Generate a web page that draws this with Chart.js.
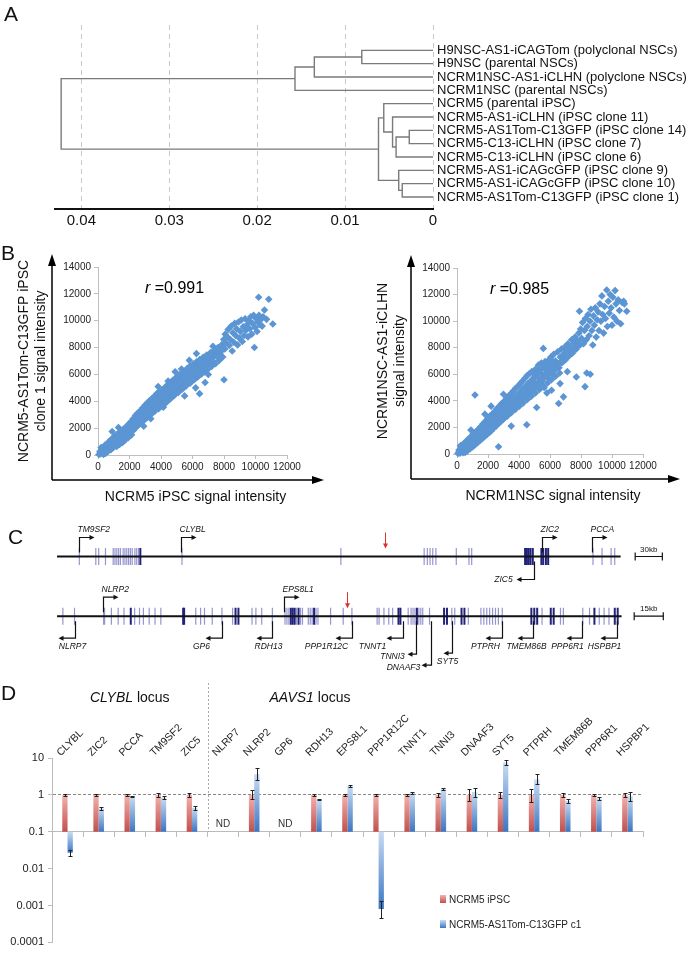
<!DOCTYPE html>
<html>
<head>
<meta charset="utf-8">
<title>Figure</title>
<script src="https://cdn.jsdelivr.net/npm/chart.js@4.4.1/dist/chart.umd.min.js"></script>
<style>
  html, body { margin: 0; padding: 0; background: #fff; }
  body { position: relative; width: 699px; height: 953px; overflow: hidden; font-family: 'Liberation Sans', Arial, sans-serif; }
  canvas { position: absolute; }
  .panel { position: absolute; font-size: 21px; line-height: 21px; color: #111; }
</style>
</head>
<body>
<canvas id="dendro" width="699" height="240" style="left:0;top:0"></canvas>
<canvas id="sc1" width="350" height="270" style="left:0;top:240px"></canvas>
<canvas id="sc2" width="349" height="270" style="left:350px;top:240px"></canvas>
<canvas id="track1" width="699" height="80" style="left:0;top:515px"></canvas>
<canvas id="track2" width="699" height="95" style="left:0;top:580px"></canvas>
<canvas id="bars" width="699" height="283" style="left:0;top:670px"></canvas>
<div class="panel" style="left:4px;top:3px">A</div>
<div class="panel" style="left:1px;top:242px">B</div>
<div class="panel" style="left:8px;top:526px">C</div>
<div class="panel" style="left:1px;top:682px">D</div>
<script>
// ---------- A: dendrogram ----------
const leafNames = [
  'H9NSC-AS1-iCAGTom (polyclonal NSCs)',
  'H9NSC (parental NSCs)',
  'NCRM1NSC-AS1-iCLHN (polyclone NSCs)',
  'NCRM1NSC (parental NSCs)',
  'NCRM5 (parental iPSC)',
  'NCRM5-AS1-iCLHN (iPSC clone 11)',
  'NCRM5-AS1Tom-C13GFP (iPSC clone 14)',
  'NCRM5-C13-iCLHN (iPSC clone 7)',
  'NCRM5-C13-iCLHN (iPSC clone 6)',
  'NCRM5-AS1-iCAGcGFP (iPSC clone 9)',
  'NCRM5-AS1-iCAGcGFP (iPSC clone 10)',
  'NCRM5-AS1Tom-C13GFP (iPSC clone 1)'
];
// merge k creates node 12 + k from two children
const mergeLeft = [0, 12, 13, 6, 15, 5, 4, 10, 9, 18, 14];
const mergeRight = [1, 2, 3, 7, 8, 16, 17, 11, 19, 20, 21];
const mergeHeight = [0.0081, 0.0135, 0.0157, 0.0027, 0.0042, 0.0046, 0.0056, 0.0035, 0.0039, 0.0062, 0.0423];
const distTicks = [0.04, 0.03, 0.02, 0.01, 0];
const distTickLabels = ['0.04', '0.03', '0.02', '0.01', '0'];

// ---------- B: scatter plots ----------
const rValues = ['0.991', '0.985'];
const scatterTicksX = [0, 2000, 4000, 6000, 8000, 10000, 12000];
const scatterTicksY = [0, 2000, 4000, 6000, 8000, 10000, 12000, 14000];
const ipscPoints = [
  [60,40],[120,260],[180,90],[250,420],[300,180],[380,610],[420,330],[480,120],[520,760],[560,450],[640,280],[690,880],[730,600],[800,1120],[820,390],[880,760],[940,1000],[980,560],
  [1040,1400],[1080,820],[1130,1110],[1190,640],[1230,1550],[1280,960],[1330,1300],[1370,780],[1420,1720],[1460,1130],[1510,1480],[1560,940],[1600,1900],[1640,1320],[1690,1650],[1740,1130],[1780,2080],[1830,1500],[1870,1800],[1920,1280],[1960,2240],[1990,1680],[1300,2050],[900,1750],
  [2040,2000],[2090,2480],[2130,1500],[2180,2230],[2230,2700],[2270,1860],[2330,2450],[2380,2950],[2420,2080],[2480,2640],[2530,3120],[2570,2230],[2630,2820],[2680,3300],[2720,2400],[2780,3000],[2830,3500],[2870,2580],[2930,3170],[2980,3700],[2900,2150],
  [3040,2790],[3090,3330],[3130,3880],[3180,2980],[3230,3520],[3280,4050],[3320,3150],[3380,3700],[3430,4200],[3480,3320],[3530,3880],[3580,4380],[3630,3480],[3680,4060],[3730,4560],[3780,3650],[3830,4230],[3880,4720],[3930,3820],[3980,4400],[3820,5100],[3350,2700],
  [4040,4020],[4100,4880],[4150,3560],[4200,4560],[4260,5050],[4310,3900],[4370,4730],[4420,5230],[4470,4080],[4450,5500],[4530,4900],[4580,5400],[4640,4250],[4690,5080],[4750,5560],[4800,4420],[4860,5240],[4910,5720],[4960,4600],[4900,6200],
  [5030,5420],[5080,5900],[5140,4780],[5200,5600],[5260,6060],[5300,6400],[5320,4960],[5380,5780],[5450,6240],[5500,4400],[5510,5150],[5580,5950],[5640,6420],[5700,5320],[5760,6120],[5800,7050],[5830,6600],[5890,5480],[5950,6300],[6000,5800],
  [6060,6780],[6120,5650],[6180,6460],[6200,5000],[6250,7550],[6260,6940],[6320,5820],[6380,6640],[6450,4570],[6460,7100],[6530,6000],[6600,6820],[6680,7280],[6750,6180],[6800,5400],[6830,7000],[6900,7450],[6970,6380],[7000,6000],
  [7060,7180],[7140,7620],[7220,6600],[7300,7360],[7300,8100],[7380,7800],[7460,6800],[7500,7870],[7540,7540],[7620,8000],[7700,7050],[7780,7720],[7850,8200],[7920,7300],[7980,8600],[8000,5600],
  [8050,7900],[8080,9000],[8120,8350],[8200,8800],[8260,9350],[8330,8150],[8400,8600],[8460,9600],[8520,7750],[8560,9100],[8620,8400],[8680,9800],[8740,8900],[8800,9400],[8860,8200],[8920,9900],[8980,8700],[9040,9200],[9100,10050],[9160,8450],[9220,9550],[9280,8900],[9340,10150],[9400,9300],[9460,9700],[9520,8800],[9580,10000],[9640,9400],[9700,10300],[9760,9000],[9820,9800],[9880,10400],[9930,8000],[9980,9500],[10050,10150],[10100,9200],[10160,9900],[10220,10400],[10280,9700],[10350,10100],[10420,9600],[10480,10300],[10570,10800],[10200,11750],[10840,11600],[11100,9750],[10700,10100],
  [150,150],[270,250],[390,400],[510,480],[630,650],[750,720],[870,900],[990,950],[1110,1150],[1230,1180],[1350,1380],[1470,1420],[1590,1620],[1710,1660],[1830,1850],[1950,1900],[2070,2110],[2190,2140],[2310,2350],[2430,2380],[2550,2600],[2670,2620],[2790,2830],[2910,2870],[3030,3080],[3150,3100],[3270,3320],[3390,3350],[3510,3560],[3630,3590],[3750,3800],[3870,3830],[3990,4040],[4110,4060],[4230,4280],[4350,4300],[4470,4520],[4590,4540],[4710,4760],[4830,4780],[4950,5000],[5070,4960],[5190,5240],[5310,5200],[5430,5480],[5550,5440],[5670,5720],[5790,5680],[5910,5960],[6030,5950],[6150,6200],[6270,6150],[6390,6430],[6510,6400],[6630,6680],[6750,6600],[6870,6900],[7000,6800],[7150,7100],[7300,7000],[7450,7400],[7600,7300],[7750,7600],[7900,7850],
  [200,550],[450,750],[700,1000],[950,1250],[1200,1500],[1450,1800],[1700,2000],[1950,2300],[2200,2500],[2450,2800],[2700,3000],[2950,3300],[3200,3500],[3450,3800],[3700,4000],[3950,4300],[4200,4400],[4450,4750],[4700,5000],[4950,5250],[5200,5400],[5450,5750],[5700,5900],[5950,6200],[6200,6550],[6450,6700],
  [350,50],[600,300],[850,550],[1100,800],[1350,1050],[1600,1300],[1850,1550],[2100,1800],[2350,2000],[2600,2300],[2850,2500],[3100,2750],[3350,3000],[3600,3250],[3850,3450],[4100,3750],[4350,3950],[4600,4200],[4850,4450],[5100,4650],[5350,4900],[5600,5150],[5850,5350],[6100,5600],[6350,5850],[6600,6100]
];
const nscPoints = [
  [60,50],[130,300],[190,60],[260,520],[320,200],[400,700],[450,380],[520,120],[560,900],[610,500],[680,250],[730,1050],[780,700],[850,400],[900,1250],[960,850],
  [1020,550],[1060,1450],[1110,1050],[1160,4440],[1170,700],[1220,1650],[1270,1250],[1320,850],[1370,1850],[1420,1400],[1470,1000],[1520,2050],[1570,1600],[1620,1150],[1670,2250],[1720,1800],[1770,1300],[1820,2450],[1870,1950],[1920,1450],[1970,2650],[1800,3000],[900,1800],
  [2020,2150],[2070,1600],[2120,2850],[2170,2350],[2200,3600],[2220,1750],[2270,3000],[2320,2500],[2370,1950],[2420,3200],[2470,2700],[2520,2100],[2570,3400],[2620,2900],[2680,550],[2680,2300],[2730,3600],[2780,3100],[2830,2450],[2880,3800],[2930,3300],[2980,2650],[3000,4500],
  [3030,3950],[3080,3450],[3130,2800],[3180,4150],[3230,3650],[3280,3000],[3330,4350],[3380,3850],[3430,3150],[3480,4550],[3500,2100],[3530,4000],[3580,3350],[3630,4750],[3680,4200],[3730,3500],[3780,4950],[3830,4400],[3880,3700],[3930,5100],[3980,4550],
  [4030,3850],[4080,5300],[4130,4750],[4180,4050],[4230,5500],[4280,4950],[4330,4200],[4380,5700],[4430,5100],[4480,4400],[4500,2200],[4530,5900],[4580,5300],[4630,4550],[4680,6050],[4730,5450],[4780,4750],[4830,6200],[4880,5650],[4930,4900],[4980,6000],
  [5030,5800],[5080,6400],[5140,3500],[5140,5100],[5200,6100],[5260,6700],[5320,5300],[5380,6300],[5440,6850],[5500,5500],[5570,7950],[5560,6500],[5620,5000],[5680,6950],[5740,6000],[5800,4600],[5820,6700],[5880,5700],[5940,7100],[6000,6300],
  [6060,7300],[6100,4800],[6120,6000],[6180,6800],[6240,7500],[6300,6300],[6360,7000],[6430,6600],[6500,7700],[6560,3800],[6580,6500],[6650,5300],[6660,7300],[6740,7900],[6800,6900],[6870,4300],[6880,7500],[6950,8050],[7000,7100],
  [7060,7800],[7120,6200],[7160,8300],[7240,7400],[7320,8000],[7400,8600],[7460,7600],[7540,8300],[7620,8800],[7700,5800],[7700,7900],[7780,8500],[7860,9100],[7900,10750],[7940,8200],[7980,9400],
  [8040,8700],[8100,9900],[8160,8300],[8220,9300],[8260,5070],[8280,10200],[8340,8600],[8370,6100],[8400,9600],[8460,10500],[8520,8900],[8580,10000],[8600,6000],[8640,10900],[8700,9300],[8760,8200],[8800,10400],[8860,9700],[8920,11000],[8980,8800],[9040,10100],[9100,10700],[9160,9300],[9220,11300],[9280,10000],[9350,11900],[9400,10500],[9460,9100],[9520,11100],[9580,10200],[9660,12340],[9700,9600],[9760,11500],[9820,10600],[9880,12000],[9940,11000],[10000,9700],[10060,11800],[10120,10300],[10200,12300],[10260,11300],[10320,10000],[10400,11600],[10480,10800],[10560,9800],[10650,11400],[10750,11500],[10950,10750],[10800,11300],
  [150,180],[280,300],[410,450],[540,560],[670,720],[800,820],[930,990],[1060,1080],[1190,1250],[1320,1340],[1450,1520],[1580,1590],[1710,1790],[1840,1850],[1970,2060],[2100,2110],[2230,2330],[2360,2370],[2490,2600],[2620,2630],[2750,2870],[2880,2890],[3010,3140],[3140,3150],[3270,3410],[3400,3420],[3530,3680],[3660,3690],[3790,3950],[3920,3960],[4050,4220],[4180,4230],[4310,4490],[4440,4500],[4570,4760],[4700,4770],[4830,5030],[4960,5040],[5090,5300],[5220,5310],[5350,5570],[5480,5580],[5610,5840],[5740,5850],[5870,6110],[6000,6120],[6150,6400],[6300,6450],[6450,6700],[6600,6750],[6750,7000],[6900,7050],[7050,7300],[7200,7400],[7350,7650],[7500,7800],[7650,8000],[7800,8200],
  [220,620],[480,850],[740,1150],[1000,1450],[1260,1700],[1520,2000],[1780,2250],[2040,2550],[2300,2800],[2560,3100],[2820,3350],[3080,3650],[3340,3900],[3600,4200],[3860,4450],[4120,4750],[4380,5000],[4640,5300],[4900,5550],[5160,5850],[5420,6100],[5680,6400],[5940,6650],[6200,6950],
  [380,100],[640,350],[900,600],[1160,850],[1420,1100],[1680,1350],[1940,1600],[2200,1850],[2460,2100],[2720,2350],[2980,2600],[3240,2850],[3500,3100],[3760,3350],[4020,3600],[4280,3850],[4540,4100],[4800,4350],[5060,4600],[5320,4850],[5580,5100],[5840,5350],[6100,5600],[6360,5850],[6620,6100]
];

// ---------- C: loci (positions in kb) ----------
const clyblSpan = [0, 622.5];
const clyblScaleBar = [638.6, 30];
const clyblExonsLight = [24.6, 42.8, 46, 53.5, 62, 64, 66, 68, 70, 73, 75, 77, 79, 81, 83, 86, 88, 90, 138, 313.5, 405.5, 409, 412, 415, 418.5, 441, 455, 458, 592, 602, 612, 616];
const clyblExonsDark = [92, 517, 519, 521, 523, 525.5, 535, 537, 540, 542.5];
const clyblGenes = ['TM9SF2', 'CLYBL', 'ZIC2', 'PCCA', 'ZIC5'];
const clyblGenePos = [24.6, 137, 536, 591, 527];
const clyblGeneStrand = [1, 1, 1, 1, -1];
const clyblSite = [362];

const aavsSpan = [0, 291];
const aavsScaleBar = [297.5, 15];
const aavsExonsLight = [3, 9, 24, 24.5, 28, 31.5, 34.5, 40, 42.5, 44.5, 47.5, 50.5, 53.5, 71.5, 74, 76, 80, 85, 90.5, 100.5, 102.5, 105.5, 111, 117.5, 118.5, 119.5, 123.5, 125.5, 126.5, 129.5, 130.5, 131.5, 133.5, 134.5, 141, 147.5, 152, 165, 166, 168.5, 171, 173, 181, 182.5, 183.5, 184.5, 186.5, 187.5, 188.5, 192, 203.5, 205, 212, 218.5, 220, 221.5, 223, 224.5, 226, 227.5, 229.5, 250, 259.5, 261, 271, 274.5, 279.5, 282, 284.5];
const aavsExonsDark = [38, 65, 65.5, 92, 93.5, 120.5, 121.5, 122.5, 124.5, 132.5, 176, 177, 185.5, 199.5, 201, 208.5, 210, 244.5, 246, 247.5, 254.5, 256, 277, 287.5, 289];
const aavsGenes = ['NLRP2', 'EPS8L1', 'NLRP7', 'GP6', 'RDH13', 'PPP1R12C', 'TNNT1', 'TNNI3', 'DNAAF3', 'SYT5', 'PTPRH', 'TMEM86B', 'PPP6R1', 'HSPBP1'];
const aavsGenePos = [23.5, 117, 9, 85, 111, 152, 178.5, 185, 193, 203.5, 229.5, 245.5, 270.5, 288.5];
const aavsGeneStrand = [1, 1, -1, -1, -1, -1, -1, -1, -1, -1, -1, -1, -1, -1];
const aavsSite = [149.5];

// ---------- D: qPCR ----------
const geneCats = ['CLYBL', 'ZIC2', 'PCCA', 'TM9SF2', 'ZIC5', 'NLRP7', 'NLRP2', 'GP6', 'RDH13', 'EPS8L1', 'PPP1R12C', 'TNNT1', 'TNNI3', 'DNAAF3', 'SYT5', 'PTPRH', 'TMEM86B', 'PPP6R1', 'HSPBP1'];
const ctrlMean = [1, 1, 1, 1, 1, null, 1, null, 1, 1, 1, 1, 1, 1, 1, 1, 1, 1, 1];
const ctrlLow = [0.93, 0.92, 0.96, 0.85, 0.88, null, 0.75, null, 0.95, 0.92, 0.95, 0.93, 0.9, 0.7, 0.82, 0.66, 0.9, 0.93, 0.9];
const ctrlHigh = [1.07, 1.08, 1.04, 1.15, 1.12, null, 1.35, null, 1.05, 1.08, 1.05, 1.07, 1.1, 1.45, 1.2, 1.45, 1.1, 1.07, 1.1];
const cloneMean = [0.027, 0.43, 0.9, 0.85, 0.45, null, 3.6, null, 0.75, 1.75, 0.0008, 1.12, 1.45, 1.2, 7.5, 2.6, 0.68, 0.8, 0.92];
const cloneLow = [0.022, 0.38, 0.85, 0.75, 0.4, null, 2.5, null, 0.72, 1.6, 0.00046, 1.07, 1.35, 0.9, 6.6, 2.0, 0.6, 0.74, 0.7];
const cloneHigh = [0.033, 0.48, 0.95, 0.95, 0.5, null, 5.2, null, 0.78, 1.9, 0.0013, 1.17, 1.55, 1.5, 8.6, 3.7, 0.78, 0.86, 1.2];
const barBase = 0.1;
const logTicks = [0.0001, 0.001, 0.01, 0.1, 1, 10];
const logTickLabels = ['0.0001', '0.001', '0.01', '0.1', '1', '10'];
const locusNames = ['CLYBL', 'AAVS1'];
const locusSizes = [5, 14];

const FONT = "'Liberation Sans', Arial, sans-serif";
Chart.defaults.font.family = FONT;
Chart.defaults.color = '#222';
Chart.defaults.animation = false;
Chart.defaults.responsive = false;
Chart.defaults.plugins.legend.display = false;
Chart.defaults.plugins.tooltip.enabled = false;

function fixedTicks(values) {
  return scale => { scale.ticks = values.map(v => ({value: v})); };
}

// ===== A =====
function dendroSegments() {
  const nodeY = leafNames.map((_, i) => i);
  const nodeH = leafNames.map(() => 0);
  return mergeHeight.map((h, k) => {
    const a = mergeLeft[k], b = mergeRight[k];
    const seg = [
      {x: nodeH[a], y: nodeY[a]}, {x: h, y: nodeY[a]},
      {x: h, y: nodeY[b]}, {x: nodeH[b], y: nodeY[b]}
    ];
    nodeY.push((nodeY[a] + nodeY[b]) / 2);
    nodeH.push(h);
    return seg;
  });
}

const leafLabelPlugin = {
  id: 'leafLabels',
  afterDraw(chart) {
    const {ctx, chartArea, scales: {y}} = chart;
    ctx.save();
    ctx.font = '13px ' + FONT;
    ctx.fillStyle = '#111';
    ctx.textBaseline = 'middle';
    leafNames.forEach((n, i) => ctx.fillText(n, chartArea.right + 4, y.getPixelForValue(i)));
    ctx.restore();
  }
};

new Chart(document.getElementById('dendro'), {
  type: 'scatter',
  data: {
    datasets: dendroSegments().map(seg => ({
      data: seg, showLine: true, borderColor: '#7a7a7a', borderWidth: 1.4, pointRadius: 0, clip: false
    }))
  },
  options: {
    devicePixelRatio: 1,
    layout: {padding: {left: 55, right: 266, top: 25, bottom: 0}},
    scales: {
      x: {
        type: 'linear', reverse: true, min: 0, max: 0.043,
        afterBuildTicks: fixedTicks(distTicks),
        afterFit: s => { s.height = 31; },
        ticks: {callback: v => distTickLabels[distTicks.indexOf(v)], font: {size: 15}, color: '#111', padding: 3, maxRotation: 0, autoSkip: false},
        grid: {color: '#c8c8c8', drawTicks: false},
        border: {display: true, color: '#111', width: 2, dash: [5, 4]}
      },
      y: {type: 'linear', display: false, reverse: true, min: -1.9, max: 11.9}
    }
  },
  plugins: [leafLabelPlugin]
});

// ===== B =====
function scatterDecor(rText, rDx, yTitle, xTitle) {
  return {
    id: 'scatterDecor',
    afterDraw(chart) {
      const {ctx, chartArea: a} = chart;
      ctx.save();
      const ax = a.left - 46, ay = a.bottom + 25;
      ctx.strokeStyle = '#000'; ctx.fillStyle = '#000'; ctx.lineWidth = 1.5;
      ctx.beginPath();
      ctx.moveTo(ax, ay); ctx.lineTo(ax, a.top - 4);
      ctx.moveTo(ax, ay); ctx.lineTo(a.right + 28, ay);
      ctx.stroke();
      ctx.beginPath();
      ctx.moveTo(ax, a.top - 13); ctx.lineTo(ax - 4, a.top - 1); ctx.lineTo(ax + 4, a.top - 1); ctx.closePath();
      ctx.moveTo(a.right + 37, ay); ctx.lineTo(a.right + 25, ay - 4); ctx.lineTo(a.right + 25, ay + 4); ctx.closePath();
      ctx.fill();
      // correlation
      ctx.textBaseline = 'middle';
      ctx.font = 'italic 16px ' + FONT;
      const rx = a.left + rDx, ry = a.top + 22;
      ctx.fillText('r', rx, ry);
      const w = ctx.measureText('r ').width;
      ctx.font = '16px ' + FONT;
      ctx.fillText('=' + rText, rx + w, ry);
      // titles
      ctx.font = '14px ' + FONT;
      ctx.textAlign = 'center';
      ctx.fillStyle = '#111';
      ctx.fillText(xTitle, (a.left + a.right) / 2 + 3, a.bottom + 42);
      const cy = (a.top + a.bottom) / 2;
      yTitle.forEach((line, i) => {
        ctx.save();
        ctx.translate(a.left - 74 + i * 17, cy);
        ctx.rotate(-Math.PI / 2);
        ctx.fillText(line, 0, 0);
        ctx.restore();
      });
      ctx.restore();
    }
  };
}

function makeScatter(id, points, padding, decor) {
  new Chart(document.getElementById(id), {
    type: 'scatter',
    data: {
      datasets: [{
        data: points.map(p => ({x: p[0], y: p[1]})),
        pointStyle: 'rectRot', pointRadius: 3.8, pointBorderWidth: 0,
        pointBackgroundColor: '#5b95d3', clip: false
      }]
    },
    options: {
      devicePixelRatio: 1,
      layout: {padding},
      scales: {
        x: {
          type: 'linear', min: 0, max: 12000,
          afterBuildTicks: fixedTicks(scatterTicksX),
          afterFit: s => { s.height = 20; },
          ticks: {callback: v => String(v), font: {size: 10}, color: '#222', padding: 2, maxRotation: 0, autoSkip: false},
          grid: {drawOnChartArea: false, tickLength: 4, color: '#bfbfbf'},
          border: {color: '#bfbfbf'}
        },
        y: {
          type: 'linear', min: 0, max: 14000,
          afterBuildTicks: fixedTicks(scatterTicksY),
          afterFit: s => { s.width = 40; },
          ticks: {callback: v => String(v), font: {size: 10}, color: '#222', padding: 3, autoSkip: false},
          grid: {drawOnChartArea: false, tickLength: 4, color: '#bfbfbf'},
          border: {color: '#bfbfbf'}
        }
      }
    },
    plugins: [decor]
  });
}

makeScatter('sc1', ipscPoints, {left: 58, right: 63, top: 27, bottom: 35},
  scatterDecor(rValues[0], 47, ['NCRM5-AS1Tom-C13GFP iPSC', 'clone 1 signal intensity'], 'NCRM5 iPSC signal intensity'));
makeScatter('sc2', nscPoints, {left: 67, right: 56, top: 28, bottom: 36},
  scatterDecor(rValues[1], 33, ['NCRM1NSC-AS1-iCLHN', 'signal intensity'], 'NCRM1NSC signal intensity'));

// ===== C =====
// reverse-strand arrows: drop below the line, arrow length, label offset (px)
const geneLayout = {
  ZIC5: {drop: 23, len: 18, dx: -31, dy: 23},
  NLRP7: {drop: 22, len: 17, dx: -3, dy: 30},
  GP6: {drop: 22, len: 17, dx: -21, dy: 30},
  RDH13: {drop: 22, len: 16, dx: -4, dy: 30},
  PPP1R12C: {drop: 22, len: 17, dx: -26, dy: 30},
  TNNT1: {drop: 22, len: 17, dx: -31, dy: 30},
  TNNI3: {drop: 38, len: 9, dx: -24, dy: 40},
  DNAAF3: {drop: 49, len: 10, dx: -28, dy: 51},
  SYT5: {drop: 37, len: 9, dx: -5, dy: 45},
  PTPRH: {drop: 22, len: 17, dx: -17, dy: 30},
  TMEM86B: {drop: 22, len: 16, dx: -7, dy: 30},
  PPP6R1: {drop: 22, len: 16, dx: -15, dy: 30},
  HSPBP1: {drop: 22, len: 17, dx: -13, dy: 30}
};

function trackDecor(names, pos, strand, sites, bar, barLabel) {
  return {
    id: 'trackDecor',
    afterDatasetsDraw(chart) {
      const {ctx, scales: {x, y}} = chart;
      const y0 = y.getPixelForValue(0);
      ctx.save();
      ctx.strokeStyle = '#111'; ctx.fillStyle = '#111'; ctx.lineWidth = 1.2;
      ctx.textBaseline = 'middle';
      ctx.font = 'italic 8.5px ' + FONT;
      names.forEach((name, i) => {
        const v = Math.round(x.getPixelForValue(pos[i])) + 0.5;
        ctx.beginPath();
        if (strand[i] > 0) {
          const top = y0 - 19;
          ctx.moveTo(v, y0 - 4); ctx.lineTo(v, top); ctx.lineTo(v + 11, top);
          ctx.stroke();
          ctx.beginPath();
          ctx.moveTo(v + 15, top); ctx.lineTo(v + 10, top - 2.5); ctx.lineTo(v + 10, top + 2.5); ctx.closePath(); ctx.fill();
          ctx.textAlign = 'left';
          ctx.fillText(name, v - 2, y0 - 27);
        } else {
          const L = geneLayout[name];
          const bot = y0 + L.drop;
          ctx.moveTo(v, y0 + 5); ctx.lineTo(v, bot); ctx.lineTo(v - L.len + 4, bot);
          ctx.stroke();
          ctx.beginPath();
          ctx.moveTo(v - L.len, bot); ctx.lineTo(v - L.len + 5, bot - 2.5); ctx.lineTo(v - L.len + 5, bot + 2.5); ctx.closePath(); ctx.fill();
          ctx.textAlign = 'center';
          ctx.fillText(name, v + L.dx, y0 + L.dy);
        }
      });
      // integration sites
      ctx.strokeStyle = '#e0302b'; ctx.fillStyle = '#e0302b'; ctx.lineWidth = 1;
      sites.forEach(s => {
        const p = Math.round(x.getPixelForValue(s)) + 0.5;
        ctx.beginPath(); ctx.moveTo(p, y0 - 24); ctx.lineTo(p, y0 - 12); ctx.stroke();
        ctx.beginPath(); ctx.moveTo(p, y0 - 8); ctx.lineTo(p - 2.5, y0 - 13); ctx.lineTo(p + 2.5, y0 - 13); ctx.closePath(); ctx.fill();
      });
      // scale bar label
      ctx.fillStyle = '#111';
      ctx.font = '8px ' + FONT;
      ctx.textAlign = 'center';
      ctx.fillText(barLabel, x.getPixelForValue(bar[0] + bar[1] / 2), y0 - 7);
      ctx.restore();
    }
  };
}

function makeTrack(id, originPx, kbPerPx, span, light, dark, bar, yRange, decor) {
  const canvas = document.getElementById(id);
  new Chart(canvas, {
    type: 'scatter',
    data: {
      datasets: [
        {data: [{x: span[0], y: 0}, {x: span[1], y: 0}], showLine: true, borderColor: '#111', borderWidth: 2, pointRadius: 0},
        {data: dark.map(v => ({x: v, y: 0})), pointStyle: 'line', pointRotation: 90, pointRadius: 8.5, pointBorderColor: '#22227a', pointBorderWidth: 2},
        {data: light.map(v => ({x: v, y: 0})), pointStyle: 'line', pointRotation: 90, pointRadius: 8.5, pointBorderColor: '#9696cf', pointBorderWidth: 1.2},
        {data: [{x: bar[0], y: 0}, {x: bar[0] + bar[1], y: 0}], showLine: true, borderColor: '#111', borderWidth: 1.2,
         pointStyle: 'line', pointRotation: 90, pointRadius: 4, pointBorderColor: '#111', pointBorderWidth: 1.2}
      ]
    },
    options: {
      devicePixelRatio: 1,
      layout: {padding: 0},
      scales: {
        x: {type: 'linear', display: false, min: -originPx * kbPerPx, max: (canvas.width - originPx) * kbPerPx},
        y: {type: 'linear', display: false, min: yRange[0], max: yRange[1]}
      }
    },
    plugins: [decor]
  });
}

makeTrack('track1', 48, 30 / 28, clyblSpan, clyblExonsLight, clyblExonsDark, clyblScaleBar, [-38, 42],
  trackDecor(clyblGenes, clyblGenePos, clyblGeneStrand, clyblSite, clyblScaleBar, '30kb'));
makeTrack('track2', 48, 0.5, aavsSpan, aavsExonsLight, aavsExonsDark, aavsScaleBar, [-62, 33],
  trackDecor(aavsGenes, aavsGenePos, aavsGeneStrand, aavsSite, aavsScaleBar, '15kb'));

// ===== D =====
const RED = ['#f4b2ae', '#c0504d'];
const BLUE = ['#c8dcf3', '#3c76c3'];

function barGradient(colors) {
  return ctx => {
    const chart = ctx.chart;
    const raw = ctx.raw;
    if (!chart.chartArea || !raw || !chart.scales.y) return colors[1];
    const y = chart.scales.y;
    const top = y.getPixelForValue(Math.max(raw[0], raw[1]));
    const bot = y.getPixelForValue(Math.min(raw[0], raw[1]));
    const g = chart.ctx.createLinearGradient(0, top, 0, bot + 0.01);
    g.addColorStop(0, colors[0]);
    g.addColorStop(1, colors[1]);
    return g;
  };
}

const qpcrDecor = {
  id: 'qpcrDecor',
  afterDatasetsDraw(chart) {
    const {ctx, chartArea: a, scales: {x, y}} = chart;
    const catW = a.width / geneCats.length;
    ctx.save();
    // error bars
    ctx.strokeStyle = '#222'; ctx.lineWidth = 1;
    chart.data.datasets.forEach((ds, di) => {
      chart.getDatasetMeta(di).data.forEach((bar, i) => {
        const lo = ds.errLow[i], hi = ds.errHigh[i];
        if (lo == null || hi == null) return;
        const bx = Math.round(bar.x) + 0.5;
        const y1 = Math.round(y.getPixelForValue(lo)) + 0.5, y2 = Math.round(y.getPixelForValue(hi)) + 0.5;
        ctx.beginPath();
        ctx.moveTo(bx, y1); ctx.lineTo(bx, y2);
        ctx.moveTo(bx - 2, y1); ctx.lineTo(bx + 2, y1);
        ctx.moveTo(bx - 2, y2); ctx.lineTo(bx + 2, y2);
        ctx.stroke();
      });
    });
    // not detected
    ctx.fillStyle = '#333'; ctx.font = '10px ' + FONT; ctx.textAlign = 'center'; ctx.textBaseline = 'middle';
    ctrlMean.forEach((v, i) => {
      if (v == null) ctx.fillText('ND', x.getPixelForValue(i), y.getPixelForValue(barBase) - 8);
    });
    // locus divider and titles
    let start = 0;
    locusNames.forEach((name, k) => {
      const left = x.getPixelForValue(start) - catW / 2;
      const right = left + locusSizes[k] * catW;
      ctx.font = 'italic 14px ' + FONT;
      const w1 = ctx.measureText(name).width;
      ctx.font = '14px ' + FONT;
      const w2 = ctx.measureText(' locus').width;
      const tx = k === 0 ? (left + right) / 2 - (w1 + w2) / 2 : left + 62;
      ctx.fillStyle = '#111'; ctx.textAlign = 'left';
      ctx.font = 'italic 14px ' + FONT;
      ctx.fillText(name, tx, 28);
      ctx.font = '14px ' + FONT;
      ctx.fillText(' locus', tx + w1, 28);
      if (k > 0) {
        const dx = Math.round(left) + 0.5;
        ctx.strokeStyle = '#aaa'; ctx.setLineDash([2, 2]);
        ctx.beginPath(); ctx.moveTo(dx, 13); ctx.lineTo(dx, y.getPixelForValue(barBase)); ctx.stroke();
        ctx.setLineDash([]);
      }
      start += locusSizes[k];
    });
    // legend
    ctx.font = '10px ' + FONT; ctx.textBaseline = 'middle';
    chart.data.datasets.forEach((ds, di) => {
      const lx = a.left + 388, ly = 229 + di * 25;
      const g = ctx.createLinearGradient(0, ly - 4, 0, ly + 4);
      g.addColorStop(0, ds.swatch[0]); g.addColorStop(1, ds.swatch[1]);
      ctx.fillStyle = g;
      ctx.fillRect(lx, ly - 4, 6, 8);
      ctx.fillStyle = '#222';
      ctx.fillText(ds.label, lx + 9, ly + 1);
    });
    ctx.restore();
  }
};

new Chart(document.getElementById('bars'), {
  type: 'bar',
  data: {
    labels: geneCats,
    datasets: [
      {label: 'NCRM5 iPSC', data: ctrlMean.map(v => v == null ? null : [barBase, v]),
       backgroundColor: barGradient(RED), swatch: RED, errLow: ctrlLow, errHigh: ctrlHigh,
       xAxisID: 'x', categoryPercentage: 0.34, barPercentage: 1},
      {label: 'NCRM5-AS1Tom-C13GFP c1', data: cloneMean.map(v => v == null ? null : [barBase, v]),
       backgroundColor: barGradient(BLUE), swatch: BLUE, errLow: cloneLow, errHigh: cloneHigh,
       xAxisID: 'x', categoryPercentage: 0.34, barPercentage: 1}
    ]
  },
  options: {
    devicePixelRatio: 1,
    layout: {padding: {left: 6, right: 56, top: 12, bottom: 6}},
    scales: {
      x: {
        type: 'category', offset: true, position: {y: barBase},
        ticks: {display: false},
        grid: {offset: true, drawOnChartArea: false, drawTicks: true, tickLength: 5, color: '#bbb'},
        border: {color: '#bbb'}
      },
      x2: {
        type: 'category', offset: true, position: 'top',
        grid: {display: false}, border: {display: false},
        ticks: {minRotation: 45, maxRotation: 45, autoSkip: false, font: {size: 10.5}, color: '#222', padding: -9},
        afterFit: s => { s.height = 76; }
      },
      y: {
        type: 'logarithmic', min: 0.0001, max: 10,
        afterBuildTicks: fixedTicks(logTicks),
        afterFit: s => { s.width = 46; },
        ticks: {callback: v => logTickLabels[logTicks.indexOf(v)], font: {size: 11}, color: '#222', padding: 4, autoSkip: false},
        grid: {color: c => (c.tick && c.tick.value === 1 ? '#888' : 'rgba(0,0,0,0)'), tickColor: '#bbb', tickLength: 4},
        border: {color: '#bbb', dash: [3, 2]}
      }
    }
  },
  plugins: [qpcrDecor]
});
</script>
</body>
</html>
